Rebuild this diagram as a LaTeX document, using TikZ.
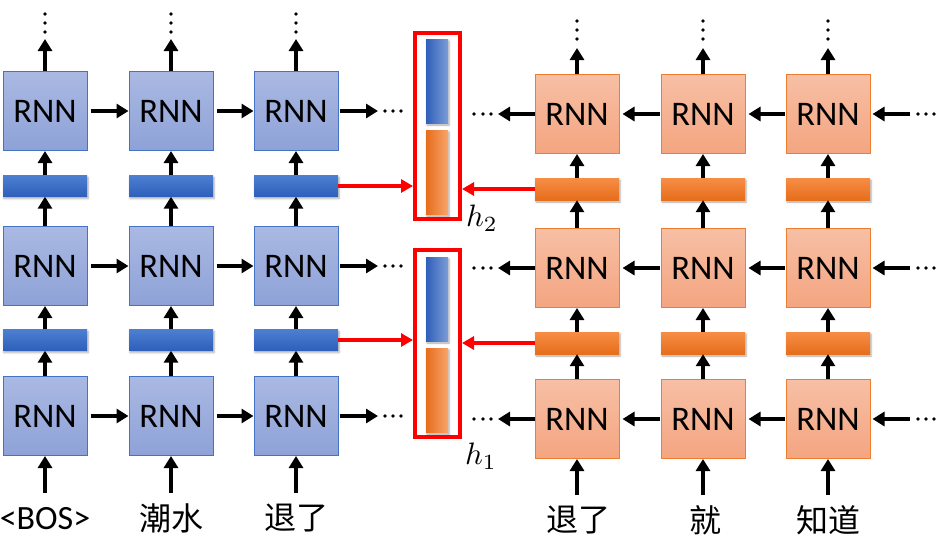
\documentclass[tikz,border=0pt]{standalone}
\usepackage{fontspec}
\setmainfont{Carlito}
\newfontfamily\cjk{Noto Sans CJK SC}
\usetikzlibrary{arrows.meta,shadows.blur}
\definecolor{bluetop}{HTML}{AAB9E2}
\definecolor{bluebot}{HTML}{8EA2D8}
\definecolor{bluebd}{HTML}{4472C4}
\definecolor{orgtop}{HTML}{F7BFA5}
\definecolor{orgbot}{HTML}{F4A580}
\definecolor{orgbd}{HTML}{ED7D31}
\definecolor{barbt}{HTML}{4C7FD2}
\definecolor{barbb}{HTML}{2F5FBA}
\definecolor{barot}{HTML}{F68E46}
\definecolor{barob}{HTML}{E66D1B}
\definecolor{hredl}{HTML}{FF0000}
\begin{document}
\begin{tikzpicture}[x=1pt,y=-1pt,
  rnnL/.style={draw=bluebd, line width=1pt, top color=bluetop, bottom color=bluebot,
    minimum width=84pt, minimum height=79pt, inner sep=0pt, font=\fontsize{34.5}{34.5}\selectfont},
  rnnR/.style={draw=orgbd, line width=1pt, top color=orgtop, bottom color=orgbot,
    minimum width=84pt, minimum height=79pt, inner sep=0pt, font=\fontsize{34.5}{34.5}\selectfont},
  sh/.style={blur shadow={shadow xshift=1pt, shadow yshift=-2pt, shadow blur radius=2pt, shadow opacity=35}},
  barL/.style={sh, top color=barbt, bottom color=barbb, minimum width=84pt, minimum height=21pt, inner sep=0pt},
  barR/.style={sh, top color=barot, bottom color=barob, minimum width=84pt, minimum height=22pt, inner sep=0pt},
  vecB/.style={sh, left color=barbb, right color=bluebd!70!white, minimum width=22pt, minimum height=84pt, inner sep=0pt},
  vecO/.style={sh, left color=barob, right color=barot!80!white, minimum width=22pt, minimum height=84pt, inner sep=0pt},
  hbox/.style={draw=hredl, line width=4pt, minimum width=45pt, inner sep=0pt},
  arr/.style={line width=4.5pt, -{Triangle[length=12pt,width=14pt]}},
  rarr/.style={draw=hredl, line width=3.5pt, -{Triangle[length=12pt,width=13pt]}},
  word/.style={inner sep=0pt, font=\fontsize{32}{32}\selectfont\cjk},
  dot/.style={circle, fill=black, inner sep=0pt, minimum size=3.8pt},
]
\useasboundingbox (0,0) rectangle (939,538);

% ---------- left (forward) stack ----------
\foreach \c/\x in {1/45, 2/171, 3/296}{
  \node[rnnL] (L1\c) at (\x,111) {RNN};
  \node[rnnL] (L2\c) at (\x,266) {RNN};
  \node[rnnL] (L3\c) at (\x,416) {RNN};
  \node[barL] (LB1\c) at (\x,186) {};
  \node[barL] (LB2\c) at (\x,340) {};
  \coordinate (Lin\c) at (\x,493);
  \coordinate (Ltop\c) at (\x,39);
  \node[dot] (Ld1\c) at (\x,14) {};
  \node[dot] (Ld2\c) at (\x,23) {};
  \node[dot] (Ld3\c) at (\x,32) {};
  \draw[arr] (Lin\c) -- (L3\c.south);
  \draw[arr] (L3\c.north) -- (LB2\c.south);
  \draw[arr] (LB2\c.north) -- (L2\c.south);
  \draw[arr] (L2\c.north) -- (LB1\c.south);
  \draw[arr] (LB1\c.north) -- (L1\c.south);
  \draw[arr] (L1\c.north) -- (Ltop\c);
}
\foreach \r in {1,2,3}{
  \draw[arr, shorten <=3pt] (L\r1.east) -- (L\r2.west);
  \draw[arr, shorten <=3pt] (L\r2.east) -- (L\r3.west);
  \coordinate (Lend\r) at (L\r3.east -| 378,0);
  \draw[arr, shorten <=1pt] (L\r3.east) -- (Lend\r);
  \node[dot] (Le1\r) at (L\r3.east -| 385,0) {};
  \node[dot] (Le2\r) at (L\r3.east -| 393,0) {};
  \node[dot] (Le3\r) at (L\r3.east -| 401,0) {};
}

% ---------- right (backward) stack ----------
\foreach \c/\x in {1/577, 2/703, 3/828}{
  \node[rnnR] (R1\c) at (\x,114) {RNN};
  \node[rnnR] (R2\c) at (\x,268) {RNN};
  \node[rnnR] (R3\c) at (\x,419) {RNN};
  \node[barR] (RB1\c) at (\x,189) {};
  \node[barR] (RB2\c) at (\x,343) {};
  \coordinate (Rin\c) at (\x,495);
  \coordinate (Rtop\c) at (\x,48);
  \node[dot] (Rd1\c) at (\x,21) {};
  \node[dot] (Rd2\c) at (\x,30) {};
  \node[dot] (Rd3\c) at (\x,39) {};
  \draw[arr] (Rin\c) -- (R3\c.south);
  \draw[arr] (R3\c.north) -- (RB2\c.south);
  \draw[arr] (RB2\c.north) -- (R2\c.south);
  \draw[arr] (R2\c.north) -- (RB1\c.south);
  \draw[arr] (RB1\c.north) -- (R1\c.south);
  \draw[arr] (R1\c.north) -- (Rtop\c);
}
\foreach \r in {1,2,3}{
  \draw[arr, shorten <=1pt, shorten >=3pt] (R\r3.west) -- (R\r2.east);
  \draw[arr, shorten <=1pt, shorten >=3pt] (R\r2.west) -- (R\r1.east);
  \coordinate (Rend\r) at (R\r1.west -| 498,0);
  \draw[arr] (R\r1.west) -- (Rend\r);
  \node[dot] (Re1\r) at (R\r1.west -| 474,0) {};
  \node[dot] (Re2\r) at (R\r1.west -| 483,0) {};
  \node[dot] (Re3\r) at (R\r1.west -| 491,0) {};
  \coordinate (Rstart\r) at (R\r3.east -| 910,0);
  \draw[arr, shorten >=2pt] (Rstart\r) -- (R\r3.east);
  \node[dot] (Rf1\r) at (R\r3.east -| 918,0) {};
  \node[dot] (Rf2\r) at (R\r3.east -| 926,0) {};
  \node[dot] (Rf3\r) at (R\r3.east -| 934,0) {};
}

% ---------- concatenated hidden vectors ----------
\node[hbox, minimum height=186pt] (H2) at (437.5,126) {};
\node[hbox, minimum height=187pt] (H1) at (437.5,343.5) {};
\node[vecB] (H2b) at (437,81) {};
\node[vecO] (H2o) at (437,172) {};
\node[vecB] (H1b) at (437,299) {};
\node[vecO] (H1o) at (437,390) {};
\draw[rarr] (LB13.east) -- (H2.west |- LB13.east);
\draw[rarr] (RB11.west) -- (H2.east |- RB11.west);
\draw[rarr] (LB23.east) -- (H1.west |- LB23.east);
\draw[rarr] (RB21.west) -- (H1.east |- RB21.west);
\node[inner sep=0pt] (h2) at (482,218) {\scalebox{3.1}{$h_2$}};
\node[inner sep=0pt] (h1) at (481,456) {\scalebox{3.1}{$h_1$}};

% ---------- inputs ----------
\node[inner sep=0pt, font=\fontsize{34}{34}\selectfont] (w1) at (45,519) {<BOS>};
\node[word] (w2) at (171,518) {潮水};
\node[word] (w3) at (296,518) {退了};
\node[word] (w4) at (578,520) {退了};
\node[word] (w5) at (705,520) {就};
\node[word] (w6) at (828,520) {知道};
\end{tikzpicture}
\end{document}
